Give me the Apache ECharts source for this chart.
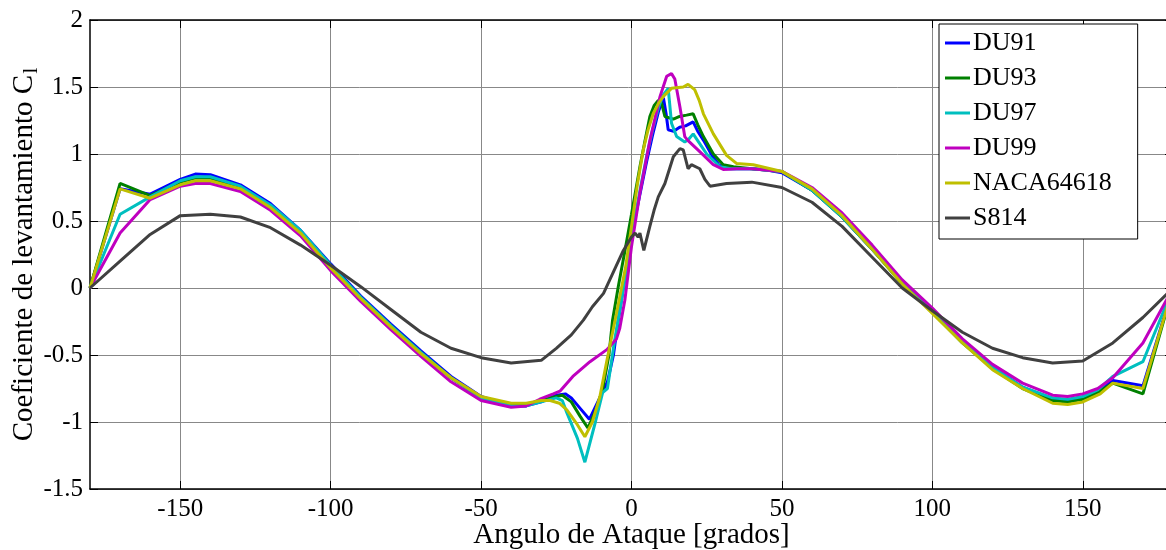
<!DOCTYPE html>
<html>
<head>
<meta charset="utf-8">
<script src="https://cdn.jsdelivr.net/npm/echarts@6/dist/echarts.min.js"></script>
<style>
html,body{margin:0;padding:0;background:#fff;}
#chart{width:1166px;height:550px;}
</style>
</head>
<body>
<div id="chart"></div>
<script>
// ---- data (angle of attack in degrees, lift coefficient) ----
const seriesNames = ['DU91', 'DU93', 'DU97', 'DU99', 'NACA64618', 'S814'];
const seriesColors = ['#0000ff', '#008000', '#00bfbf', '#bf00bf', '#bfbf00', '#404040'];
const xTicks = [-150, -100, -50, 0, 50, 100, 150];

const du91 = [[-180,0],[-170,0.74],[-160,0.70],[-150,0.81],[-145,0.85],[-140,0.845],[-130,0.77],[-120,0.63],[-110,0.43],[-100,0.18],[-90,-0.06],[-80,-0.27],[-70,-0.47],[-60,-0.66],[-50,-0.81],[-40,-0.88],[-35,-0.88],[-30,-0.85],[-25,-0.80],[-22,-0.79],[-20,-0.82],[-17,-0.90],[-14,-0.98],[-11,-0.84],[-8,-0.70],[-6,-0.50],[-4.4,-0.24],[-2,0.10],[0,0.38],[1,0.50],[3,0.72],[5,0.94],[7,1.14],[9,1.32],[10.6,1.42],[11.5,1.30],[12.2,1.18],[14,1.17],[16,1.20],[18,1.21],[20.5,1.24],[22,1.17],[24,1.10],[27,0.98],[29,0.92],[31.6,0.89],[35,0.89],[40,0.89],[45,0.88],[50,0.86],[60,0.73],[70,0.53],[80,0.29],[90,0.04],[100,-0.17],[110,-0.40],[120,-0.59],[130,-0.74],[140,-0.83],[145,-0.84],[150,-0.82],[155,-0.77],[160,-0.69],[170,-0.73],[180,0]];

const du93 = [[-180,0],[-170,0.78],[-160,0.69],[-150,0.79],[-145,0.82],[-140,0.82],[-130,0.75],[-120,0.61],[-110,0.42],[-100,0.17],[-90,-0.07],[-80,-0.28],[-70,-0.48],[-60,-0.67],[-50,-0.82],[-40,-0.87],[-35,-0.87],[-30,-0.84],[-25,-0.81],[-23,-0.80],[-20,-0.85],[-17,-0.96],[-14.5,-1.045],[-12,-0.92],[-9.6,-0.76],[-7.5,-0.50],[-6.3,-0.24],[-4.4,0.01],[-2,0.30],[0,0.55],[2.8,0.905],[4.5,1.10],[6.1,1.28],[7.5,1.36],[8.9,1.40],[10,1.38],[11.1,1.28],[13.9,1.26],[16,1.28],[18.3,1.29],[20.5,1.30],[22,1.22],[23.9,1.13],[27.2,1.00],[30.5,0.92],[33.9,0.905],[40,0.89],[50,0.87],[60,0.73],[70,0.53],[80,0.29],[90,0.03],[100,-0.18],[110,-0.41],[120,-0.60],[130,-0.75],[140,-0.84],[145,-0.85],[150,-0.83],[155,-0.78],[160,-0.71],[170,-0.79],[180,0]];

const du97 = [[-180,0],[-170,0.55],[-160,0.68],[-150,0.80],[-145,0.83],[-140,0.83],[-130,0.76],[-120,0.62],[-110,0.43],[-100,0.17],[-90,-0.07],[-80,-0.28],[-70,-0.48],[-60,-0.67],[-50,-0.82],[-40,-0.88],[-35,-0.88],[-30,-0.85],[-25,-0.82],[-23,-0.84],[-21.5,-0.93],[-18,-1.12],[-15.5,-1.30],[-12,-1.00],[-9.6,-0.78],[-8,-0.75],[-5.6,-0.39],[-3.3,-0.09],[-1,0.25],[1,0.50],[3,0.75],[5,0.98],[7,1.18],[9,1.35],[10.5,1.44],[12.2,1.49],[13.3,1.23],[15,1.13],[17.7,1.09],[19,1.11],[20.5,1.15],[22,1.10],[25,1.00],[29.4,0.905],[33,0.89],[40,0.89],[50,0.87],[60,0.73],[70,0.53],[80,0.29],[90,0.04],[100,-0.17],[110,-0.40],[120,-0.59],[130,-0.74],[140,-0.82],[145,-0.83],[150,-0.81],[155,-0.76],[160,-0.66],[170,-0.55],[180,0]];

const du99 = [[-180,0],[-170,0.41],[-160,0.66],[-150,0.76],[-145,0.78],[-140,0.78],[-130,0.72],[-120,0.58],[-110,0.39],[-100,0.13],[-90,-0.10],[-80,-0.31],[-70,-0.51],[-60,-0.70],[-50,-0.84],[-40,-0.89],[-35,-0.88],[-30.5,-0.83],[-26,-0.79],[-23.8,-0.77],[-19.5,-0.66],[-13.8,-0.55],[-8.2,-0.46],[-5,-0.38],[-3.9,-0.30],[-2.2,-0.09],[0,0.31],[2.8,0.71],[6.1,1.10],[9.5,1.43],[11.7,1.58],[13.3,1.60],[14.4,1.56],[16.1,1.35],[17.7,1.13],[18.8,1.10],[22.6,1.02],[27.2,0.92],[30.5,0.885],[35,0.89],[40,0.89],[50,0.87],[60,0.75],[70,0.56],[80,0.32],[90,0.06],[100,-0.15],[110,-0.38],[120,-0.57],[130,-0.71],[140,-0.80],[145,-0.81],[150,-0.79],[155,-0.75],[160,-0.67],[170,-0.41],[180,0]];

const naca64618 = [[-180,0],[-170,0.74],[-160,0.67],[-150,0.77],[-145,0.80],[-140,0.80],[-130,0.74],[-120,0.60],[-110,0.41],[-100,0.15],[-90,-0.08],[-80,-0.29],[-70,-0.49],[-60,-0.67],[-50,-0.81],[-40,-0.86],[-35,-0.86],[-30,-0.84],[-27,-0.84],[-24,-0.86],[-21.5,-0.91],[-18,-1.02],[-15.5,-1.11],[-13,-1.00],[-10.5,-0.81],[-8,-0.52],[-5,-0.19],[-2,0.15],[0,0.46],[2,0.78],[3.9,1.03],[5.5,1.18],[7.2,1.30],[9,1.38],[10.6,1.43],[13.3,1.49],[17.2,1.50],[18.8,1.52],[21,1.48],[22.5,1.40],[23.9,1.30],[27.2,1.15],[31.6,0.99],[34.9,0.93],[40.5,0.92],[50,0.87],[60,0.74],[70,0.54],[80,0.29],[90,0.03],[100,-0.19],[110,-0.41],[120,-0.61],[130,-0.75],[140,-0.86],[145,-0.87],[150,-0.85],[155.8,-0.79],[160,-0.71],[170,-0.75],[180,0]];

const s814 = [[-180,0],[-170,0.20],[-160,0.40],[-150,0.54],[-140,0.55],[-130,0.53],[-120,0.45],[-110,0.32],[-100,0.17],[-90,0.01],[-80,-0.16],[-70,-0.33],[-60,-0.45],[-50,-0.52],[-40,-0.56],[-30,-0.54],[-25,-0.45],[-20,-0.35],[-16,-0.24],[-13,-0.14],[-9.3,-0.04],[-6,0.12],[-2.7,0.28],[0,0.38],[1.2,0.41],[2.2,0.38],[2.8,0.41],[4.1,0.28],[6.1,0.46],[7.5,0.58],[8.9,0.68],[11.1,0.78],[13.9,0.98],[16.1,1.04],[17.2,1.03],[18.8,0.89],[19.9,0.92],[22.7,0.89],[24.4,0.81],[26.1,0.76],[31.6,0.78],[40,0.79],[50,0.75],[60,0.64],[70,0.46],[80,0.23],[90,0.0],[100,-0.17],[110,-0.33],[120,-0.45],[130,-0.52],[140,-0.56],[150,-0.545],[160,-0.41],[170,-0.22],[180,0]];

const allData = [du91, du93, du97, du99, naca64618, s814];

// ---- chart ----
const FONT = '"Liberation Serif", "DejaVu Serif", serif';
const chart = echarts.init(document.getElementById('chart'), null, {renderer: 'canvas'});

const axisLineStyle = {color: '#000', width: 1.5};
const gridLineStyle = {color: '#888888', width: 1};

const option = {
  animation: false,
  backgroundColor: '#fff',
  textStyle: {fontFamily: FONT},
  grid: {left: 90, top: 20, width: 1083, height: 469, containLabel: false, outerBoundsMode: 'none'},
  legend: {
    orient: 'vertical',
    left: 939,
    top: 24,
    backgroundColor: '#fff',
    borderColor: '#000',
    borderWidth: 1,
    borderRadius: 0,
    padding: [6, 26, 8, 6],
    itemGap: 9,
    itemWidth: 25,
    itemHeight: 3,
    icon: 'rect',
    textStyle: {fontFamily: FONT, fontSize: 26, color: '#000', lineHeight: 26, padding: [0, 0, 0, -2]},
    data: seriesNames
  },
  xAxis: [{
    type: 'value',
    min: -180,
    max: 180,
    position: 'bottom',
    name: 'Angulo de Ataque [grados]',
    nameLocation: 'middle',
    nameGap: 32,
    nameMoveOverlap: false,
    nameTextStyle: {fontFamily: FONT, fontSize: 29, color: '#000'},
    axisLine: {show: true, onZero: false, lineStyle: axisLineStyle},
    axisTick: {show: true, inside: true, length: 8, lineStyle: {color: '#000', width: 1}, customValues: xTicks},
    axisLabel: {show: true, customValues: xTicks, fontFamily: FONT, fontSize: 25, color: '#000', margin: 8},
    splitLine: {show: true, lineStyle: gridLineStyle}
  }, {
    type: 'value',
    min: -180,
    max: 180,
    position: 'top',
    axisLine: {show: true, onZero: false, lineStyle: axisLineStyle},
    axisTick: {show: true, inside: true, length: 8, lineStyle: {color: '#000', width: 1}, customValues: xTicks},
    axisLabel: {show: false},
    splitLine: {show: false}
  }],
  yAxis: [{
    type: 'value',
    min: -1.5,
    max: 2,
    interval: 0.5,
    position: 'left',
    name: 'Coeficiente de levantamiento C{sub|l}',
    nameLocation: 'middle',
    nameGap: 48,
    nameMoveOverlap: false,
    nameRotate: 90,
    nameTextStyle: {
      fontFamily: FONT, fontSize: 29, color: '#000',
      rich: {sub: {fontFamily: FONT, fontSize: 22, color: '#000', padding: [13, 0, 0, 1]}}
    },
    axisLine: {show: true, onZero: false, lineStyle: axisLineStyle},
    axisTick: {show: true, inside: true, length: 8, lineStyle: {color: '#000', width: 1}},
    axisLabel: {fontFamily: FONT, fontSize: 25, color: '#000', margin: 7},
    splitLine: {show: true, lineStyle: gridLineStyle}
  }, {
    type: 'value',
    min: -1.5,
    max: 2,
    interval: 0.5,
    position: 'right',
    axisLine: {show: true, onZero: false, lineStyle: axisLineStyle},
    axisTick: {show: true, inside: true, length: 8, lineStyle: {color: '#000', width: 1}},
    axisLabel: {show: false},
    splitLine: {show: false}
  }],
  series: seriesNames.map((name, i) => ({
    name: name,
    type: 'line',
    xAxisIndex: 0,
    yAxisIndex: 0,
    data: allData[i],
    symbol: 'none',
    showSymbol: false,
    smooth: false,
    color: seriesColors[i],
    lineStyle: {color: seriesColors[i], width: 3},
    itemStyle: {color: seriesColors[i]},
    z: 2 + i
  }))
};

chart.setOption(option);
</script>
</body>
</html>
